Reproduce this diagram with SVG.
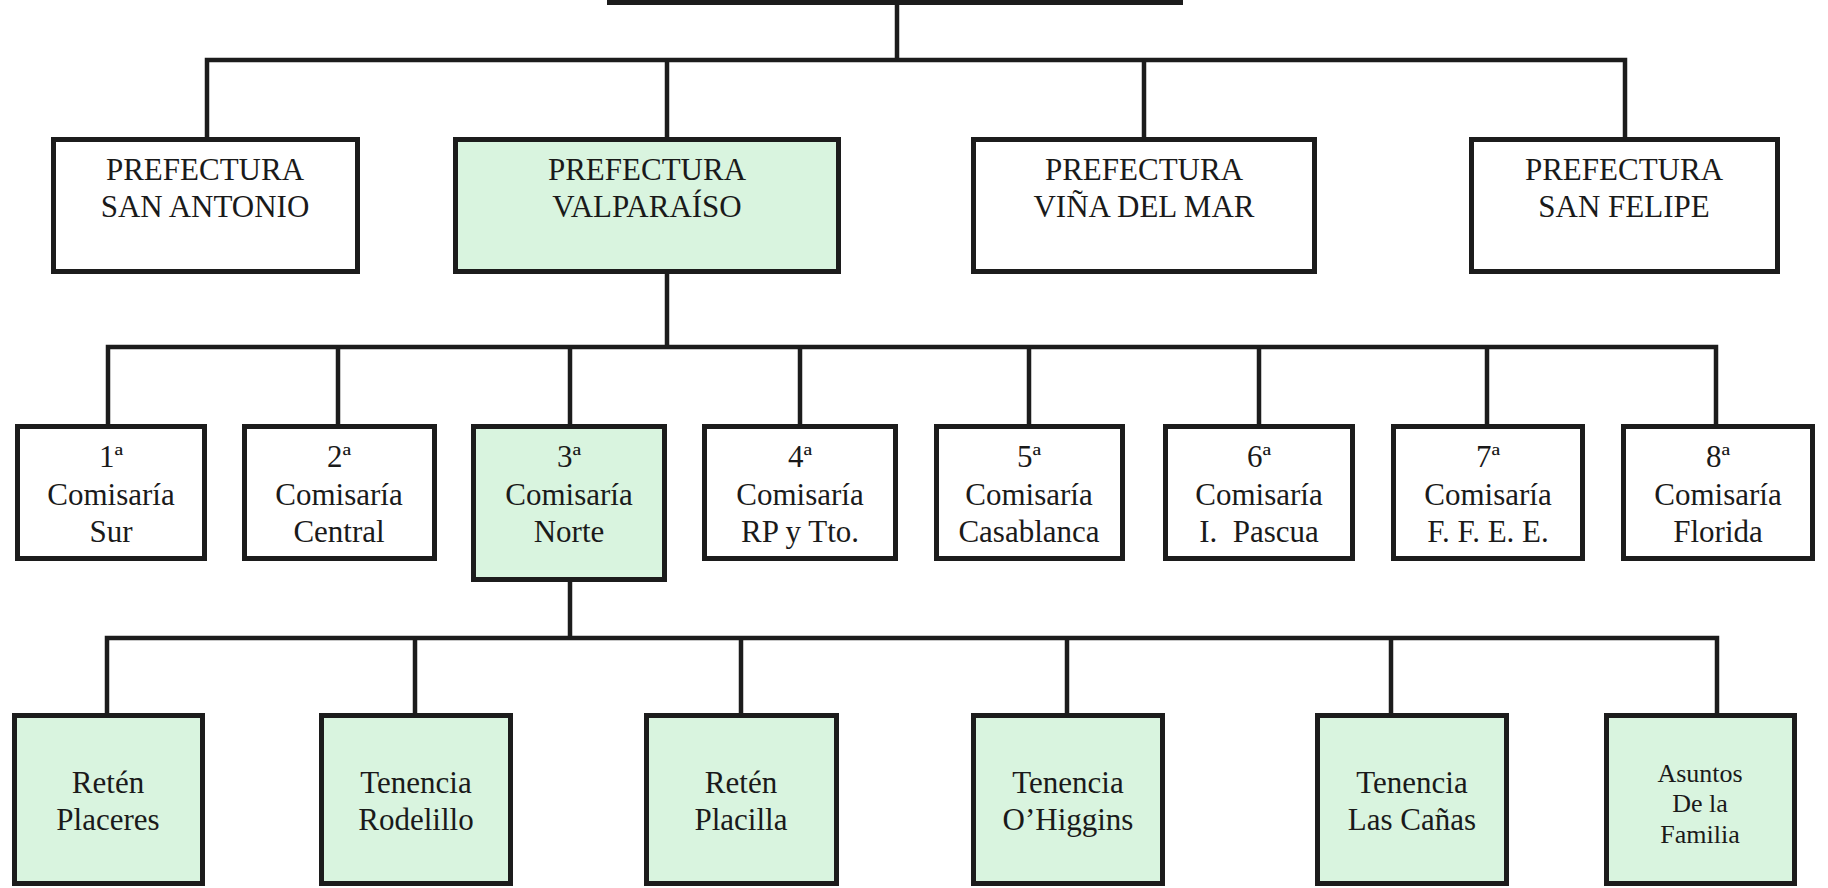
<svg xmlns="http://www.w3.org/2000/svg" width="1828" height="888" viewBox="0 0 1828 888">
<style>
.box{fill:#ffffff;stroke:#1c1c1c;stroke-width:5}
.g{fill:#d9f4df}
.ln{stroke:#1c1c1c;stroke-width:4.5;stroke-linecap:square;fill:none}
text{font-family:"Liberation Serif","Times New Roman",serif;font-size:31px;fill:#1a1a1a;text-anchor:middle}
.sm{font-size:26px}
</style>
<rect width="1828" height="888" fill="#ffffff"/>
<g id="connectors">
<path class="ln" d="M897 5V60M207 60H1625M207 60V137M667 60V137M1144 60V137M1625 60V137"/>
<path class="ln" d="M667 274V347M108 347H1716M108 347V424M338 347V424M570 347V424M800 347V424M1029 347V424M1259 347V424M1487 347V424M1716 347V424"/>
<path class="ln" d="M570 582V638M107 638H1717M107 638V713M415 638V713M741 638V713M1067 638V713M1391 638V713M1717 638V713"/>
</g>
<g id="top"><rect class="box" x="609.5" y="-50" width="571" height="52.5"/></g>
<g id="pref-san-antonio"><rect class="box" x="53.5" y="139.5" width="304" height="132"/><text x="205" y="180">PREFECTURA</text><text x="205" y="217">SAN ANTONIO</text></g>
<g id="pref-valparaiso"><rect class="box g" x="455.5" y="139.5" width="383" height="132"/><text x="647" y="180">PREFECTURA</text><text x="647" y="217">VALPARAÍSO</text></g>
<g id="pref-vina"><rect class="box" x="973.5" y="139.5" width="341" height="132"/><text x="1144" y="180">PREFECTURA</text><text x="1144" y="217">VIÑA DEL MAR</text></g>
<g id="pref-san-felipe"><rect class="box" x="1471.5" y="139.5" width="306" height="132"/><text x="1624" y="180">PREFECTURA</text><text x="1624" y="217">SAN FELIPE</text></g>
<g id="com1"><rect class="box" x="17.5" y="426.5" width="187" height="132"/><text x="111" y="467">1ª</text><text x="111" y="505">Comisaría</text><text x="111" y="542">Sur</text></g>
<g id="com2"><rect class="box" x="244.5" y="426.5" width="190" height="132"/><text x="339" y="467">2ª</text><text x="339" y="505">Comisaría</text><text x="339" y="542">Central</text></g>
<g id="com3"><rect class="box g" x="473.5" y="426.5" width="191" height="153"/><text x="569" y="467">3ª</text><text x="569" y="505">Comisaría</text><text x="569" y="542">Norte</text></g>
<g id="com4"><rect class="box" x="704.5" y="426.5" width="191" height="132"/><text x="800" y="467">4ª</text><text x="800" y="505">Comisaría</text><text x="800" y="542">RP y Tto.</text></g>
<g id="com5"><rect class="box" x="936.5" y="426.5" width="186" height="132"/><text x="1029" y="467">5ª</text><text x="1029" y="505">Comisaría</text><text x="1029" y="542">Casablanca</text></g>
<g id="com6"><rect class="box" x="1165.5" y="426.5" width="187" height="132"/><text x="1259" y="467">6ª</text><text x="1259" y="505">Comisaría</text><text x="1259" y="542" xml:space="preserve">I.  Pascua</text></g>
<g id="com7"><rect class="box" x="1393.5" y="426.5" width="189" height="132"/><text x="1488" y="467">7ª</text><text x="1488" y="505">Comisaría</text><text x="1488" y="542">F. F. E. E.</text></g>
<g id="com8"><rect class="box" x="1623.5" y="426.5" width="189" height="132"/><text x="1718" y="467">8ª</text><text x="1718" y="505">Comisaría</text><text x="1718" y="542">Florida</text></g>
<g id="reten-placeres"><rect class="box g" x="14.5" y="715.5" width="188" height="168"/><text x="108" y="793">Retén</text><text x="108" y="830">Placeres</text></g>
<g id="tenencia-rodelillo"><rect class="box g" x="321.5" y="715.5" width="189" height="168"/><text x="416" y="793">Tenencia</text><text x="416" y="830">Rodelillo</text></g>
<g id="reten-placilla"><rect class="box g" x="646.5" y="715.5" width="190" height="168"/><text x="741" y="793">Retén</text><text x="741" y="830">Placilla</text></g>
<g id="tenencia-ohiggins"><rect class="box g" x="973.5" y="715.5" width="189" height="168"/><text x="1068" y="793">Tenencia</text><text x="1068" y="830">O’Higgins</text></g>
<g id="tenencia-las-canas"><rect class="box g" x="1317.5" y="715.5" width="189" height="168"/><text x="1412" y="793">Tenencia</text><text x="1412" y="830">Las Cañas</text></g>
<g id="asuntos-familia"><rect class="box g" x="1606.5" y="715.5" width="188" height="168"/><text class="sm" x="1700" y="782">Asuntos</text><text class="sm" x="1700" y="812">De la</text><text class="sm" x="1700" y="843">Familia</text></g>
</svg>
